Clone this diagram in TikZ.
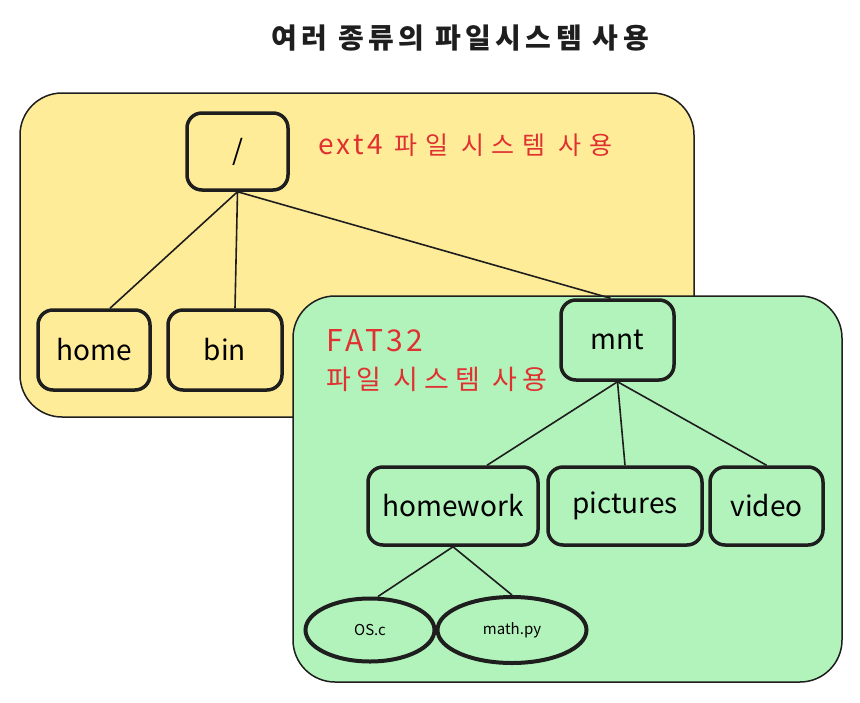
\documentclass[tikz,border=0pt]{standalone}
\usepackage{fontspec}
\setmainfont{Noto Sans CJK KR}
\newfontfamily\widefont{Noto Sans CJK KR}[LetterSpace=22]
\newfontfamily\widerfont{Noto Sans CJK KR}[LetterSpace=30]
\newfontfamily\capsfont{Noto Sans CJK KR}[LetterSpace=12]
\newfontfamily\titlefont{Noto Sans CJK KR}[LetterSpace=16]
\usetikzlibrary{calc,positioning,shapes.geometric}
\definecolor{fsyellow}{HTML}{FFEC99}
\definecolor{fsgreen}{HTML}{B2F2BB}
\definecolor{ink}{HTML}{1E1E1E}
\definecolor{fsred}{HTML}{E03131}
\begin{document}
\begin{tikzpicture}[x=1pt,y=-1pt,
dirbox/.style={draw=ink,line width=3.5pt,rounded corners=15pt,inner sep=0pt,
  font=\fontsize{28}{30}\selectfont},
filebox/.style={ellipse,draw=ink,line width=4pt,inner sep=0pt,
  font=\fontsize{15}{17}\selectfont},
fsarea/.style={draw=ink,line width=1.5pt,rounded corners=42pt},
note/.style={text=fsred,inner sep=0pt,font=\fontsize{25}{38}\selectfont},
link/.style={draw=ink,line width=1.6pt}]
\useasboundingbox (0,0) rectangle (860,702);
% file system areas
\draw[fsarea,fill=fsyellow] (20,93) rectangle (694,417);
\draw[fsarea,fill=fsgreen] (293,296) rectangle (842,682);
% title and labels
\node[font=\titlefont\bfseries\fontsize{28}{30}\selectfont,text=ink] (title) at (460,38) {여러 종류의 파일시스템 사용};
\node[note,anchor=west] (ext) at (318,145)
  {{\capsfont\fontsize{28}{30}\selectfont ext4}\hspace{12pt}{\widerfont 파일 시스템 사용}};
\node[note,anchor=north west,align=left,font=\fontsize{27}{38}\selectfont] (fat) at (326,329)
  {{\capsfont\fontsize{30}{30}\selectfont FAT32}\\{\widefont 파일 시스템 사용}};
% directories
\node[dirbox,minimum width=101pt,minimum height=77pt] (root) at (237.5,151.5) {/};
\node[dirbox,minimum width=112pt,minimum height=80pt] (home) at (94,350) {home};
\node[dirbox,minimum width=114pt,minimum height=80pt] (bin) at (225,350) {bin};
\node[dirbox,minimum width=113pt,minimum height=80pt] (mnt) at (617.5,340) {mnt};
\node[dirbox,minimum width=170pt,minimum height=78pt] (hw) at (453,506) {homework};
\node[dirbox,minimum width=154pt,minimum height=78pt] (pics) at (625,506) {pictures};
\node[dirbox,minimum width=113pt,minimum height=78pt] (video) at (766.5,506) {video};
% files
\node[filebox,minimum width=129pt,minimum height=63pt] (osc) at (370,630) {OS.c};
\node[filebox,minimum width=149pt,minimum height=66pt] (mathpy) at (512,630) {math.py};
% tree links
\draw[link] (root.south) -- ($(home.north)+(16,0)$);
\draw[link] (root.south) -- ($(bin.north)+(10,0)$);
\draw[link] (root.south) -- ($(mnt.north)+(-7,0)$);
\draw[link] (mnt.south) -- ($(hw.north)+(34,0)$);
\draw[link] (mnt.south) -- (pics.north);
\draw[link] (mnt.south) -- (video.north);
\draw[link] (hw.south) -- ($(osc.north)+(8,0)$);
\draw[link] (hw.south) -- (mathpy.north);
\end{tikzpicture}
\end{document}
